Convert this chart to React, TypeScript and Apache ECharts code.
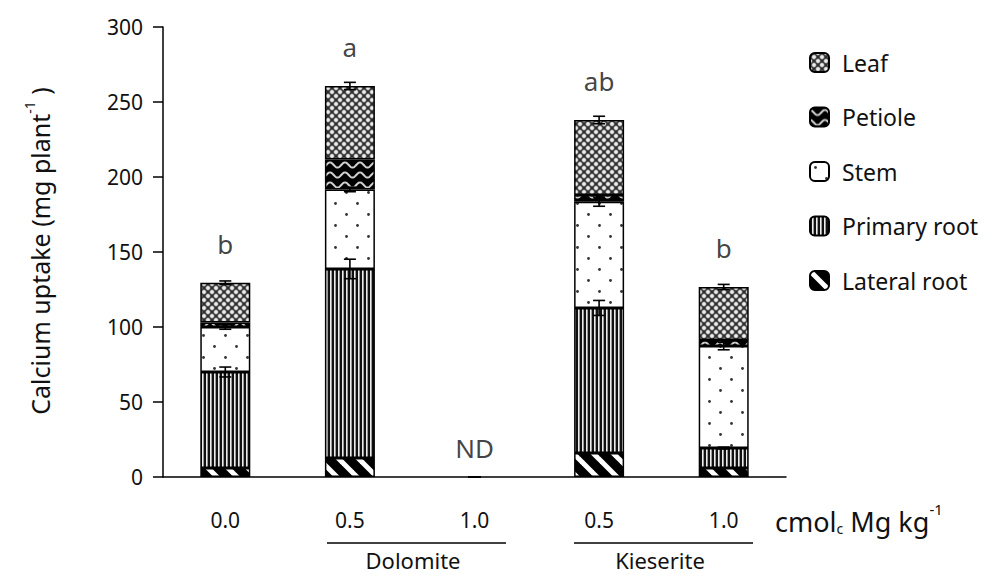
import React, { useEffect, useRef } from "react";
import * as echarts from "echarts";

const categories = ["0.0", "0.5", "1.0", "0.5", "1.0"];
const seriesNames = ["Lateral root", "Primary root", "Stem", "Petiole", "Leaf"];
const lateralRoot = [6, 12.7, 0, 16, 6];
const primaryRoot = [64, 126, 0, 96.7, 13.3];
const stem = [30, 53, 0, 70.8, 68];
const petiole = [3, 20, 0, 4.5, 4];
const leaf = [26.5, 49, 0, 50, 35.4];
const primaryRootErr = [3.3, 6.5, 0, 5, 0.6];
const stemErr = [1.5, 1.5, 0, 3, 2.5];
const leafErr = [1.2, 2.4, 0, 2.5, 1.7];
const letters = ["b", "a", "ND", "ab", "b"];
const groups = ["Dolomite", "Kieserite"];
const yTicks = { min: 0, max: 300, interval: 50 };

const FONT = "'Noto Sans', sans-serif";
const TXT = "#111";

function makePattern(w: number, h: number, draw: (ctx: CanvasRenderingContext2D) => void) {
  const c = document.createElement("canvas");
  c.width = w;
  c.height = h;
  const ctx = c.getContext("2d") as CanvasRenderingContext2D;
  draw(ctx);
  return { image: c.toDataURL(), repeat: "repeat", imageWidth: w, imageHeight: h } as any;
}

function buildPatterns() {
  const leafP = makePattern(8, 8, (ctx) => {
    ctx.fillStyle = "#2e2e2e";
    ctx.fillRect(0, 0, 8, 8);
    const pts = [[4, 4], [0, 0], [8, 0], [0, 8], [8, 8]];
    for (const [x, y] of pts) {
      const g = ctx.createRadialGradient(x, y, 0, x, y, 3.0);
      g.addColorStop(0, "#ffffff");
      g.addColorStop(0.5, "#d8d8d8");
      g.addColorStop(1, "rgba(160,160,160,0)");
      ctx.fillStyle = g;
      ctx.fillRect(x - 4, y - 4, 8, 8);
    }
  });
  const petioleP = makePattern(15, 10, (ctx) => {
    ctx.fillStyle = "#000";
    ctx.fillRect(0, 0, 15, 10);
    ctx.strokeStyle = "#d0d0d0";
    ctx.lineWidth = 2;
    ctx.beginPath();
    for (let x = 0; x <= 15; x += 0.5) {
      const y = 5 - 2.6 * Math.cos((2 * Math.PI * x) / 15);
      if (x === 0) ctx.moveTo(x, y);
      else ctx.lineTo(x, y);
    }
    ctx.stroke();
  });
  const stemP = makePattern(22, 22, (ctx) => {
    ctx.fillStyle = "#fff";
    ctx.fillRect(0, 0, 22, 22);
    ctx.fillStyle = "#333";
    for (const [x, y] of [[5.5, 5.5], [16.5, 16.5]]) {
      ctx.beginPath();
      ctx.arc(x, y, 1.4, 0, Math.PI * 2);
      ctx.fill();
    }
  });
  const primaryP = makePattern(4, 4, (ctx) => {
    ctx.fillStyle = "#eee";
    ctx.fillRect(0, 0, 4, 4);
    ctx.fillStyle = "#111";
    ctx.fillRect(0, 0, 2, 4);
    ctx.fillStyle = "#999";
    ctx.fillRect(3, 0, 1, 4);
  });
  const lateralP = makePattern(20, 20, (ctx) => {
    ctx.fillStyle = "#000";
    ctx.fillRect(0, 0, 20, 20);
    ctx.strokeStyle = "#fff";
    ctx.lineWidth = 5;
    for (const k of [-20, 0, 20]) {
      ctx.beginPath();
      ctx.moveTo(-20 + k, -20);
      ctx.lineTo(40 + k, 40);
      ctx.stroke();
    }
  });
  return [lateralP, primaryP, stemP, petioleP, leafP];
}

export default function App() {
  const ref = useRef<HTMLDivElement>(null);
  useEffect(() => {
    if (!ref.current) return;
    const chart = echarts.init(ref.current, null, { renderer: "svg" });
    const patterns = buildPatterns();
    const values = [lateralRoot, primaryRoot, stem, petiole, leaf];

    const cum: number[][] = [];
    let run = categories.map(() => 0);
    for (const v of values) {
      run = run.map((r, i) => r + v[i]);
      cum.push(run.slice());
    }
    const errData: number[][] = [];
    const errSets: [number, number[]][] = [[1, primaryRootErr], [2, stemErr], [4, leafErr]];
    for (const [si, errs] of errSets) {
      categories.forEach((_, i) => errData.push([i, cum[si][i], errs[i]]));
    }
    const totals = cum[4];

    const barSeries = seriesNames.map((name, si) => ({
      name,
      type: "bar",
      stack: "total",
      barWidth: 50,
      data: values[si].map((v) => (v === 0 ? null : v)),
      itemStyle: { color: patterns[si], borderColor: "#000", borderWidth: 1.5 },
    }));

    const option: any = {
      animation: false,
      backgroundColor: "#fff",
      textStyle: { fontFamily: FONT },
      grid: { left: 163, right: 204, top: 27, bottom: 99 },
      legend: {
        data: ["Leaf", "Petiole", "Stem", "Primary root", "Lateral root"],
        orient: "vertical",
        left: 804,
        top: 46,
        itemWidth: 19,
        itemHeight: 19,
        itemGap: 31.5,
        textStyle: { fontSize: 23, color: TXT, fontFamily: FONT, padding: [0, 0, 0, 8] },
      },
      xAxis: {
        type: "category",
        data: categories,
        axisLine: { lineStyle: { color: "#000", width: 1.5 } },
        axisTick: { length: 10, lineStyle: { color: "#000", width: 1.5 } },
        axisLabel: { fontSize: 21, color: TXT, margin: 32, fontFamily: FONT },
      },
      yAxis: {
        type: "value",
        min: yTicks.min,
        max: yTicks.max,
        interval: yTicks.interval,
        splitLine: { show: false },
        axisLine: { show: true, lineStyle: { color: "#000", width: 1.5 } },
        axisTick: { show: true, length: 10, lineStyle: { color: "#000", width: 1.5 } },
        axisLabel: { fontSize: 21, color: TXT, margin: 20, fontFamily: FONT },
      },
      series: [
        ...barSeries,
        {
          type: "custom",
          name: "err",
          z: 10,
          data: errData,
          encode: { x: 0, y: 1 },
          renderItem: (params: any, api: any) => {
            const x = api.value(0);
            const y = api.value(1);
            const e = api.value(2);
            const top = api.coord([x, y + e]);
            const bot = api.coord([x, y - e]);
            const hw = 6;
            const st = { stroke: "#000", lineWidth: 1.6 };
            return {
              type: "group",
              children: [
                { type: "line", shape: { x1: top[0], y1: top[1], x2: bot[0], y2: bot[1] }, style: st },
                { type: "line", shape: { x1: top[0] - hw, y1: top[1], x2: top[0] + hw, y2: top[1] }, style: st },
                { type: "line", shape: { x1: bot[0] - hw, y1: bot[1], x2: bot[0] + hw, y2: bot[1] }, style: st },
              ],
            };
          },
        },
        {
          type: "scatter",
          name: "letters",
          symbolSize: 0,
          z: 11,
          itemStyle: { color: "#000" },
          data: totals.map((t, i) => ({
            value: [i, t],
            label: {
              show: true,
              formatter: letters[i],
              position: "top",
              distance: t === 0 ? 16 : 26,
              fontSize: 26,
              color: "#111",
              fontFamily: FONT,
            },
          })),
        },
      ],
      graphic: [
        {
          type: "text",
          x: 40,
          y: 251,
          rotation: Math.PI / 2,
          style: {
            text: "{a|Calcium uptake (mg plant}{s|-1}{a| )}",
            textAlign: "center",
            textVerticalAlign: "middle",
            rich: {
              a: { fontSize: 25, fontFamily: FONT, fill: TXT, lineHeight: 36 },
              s: { fontSize: 14, fontFamily: FONT, fill: TXT, verticalAlign: "top" },
            },
          },
        },
        {
          type: "text",
          x: 775,
          y: 521,
          style: {
            text: "{a|cmol}{b|c}{a| Mg kg}{s|-1}",
            textAlign: "left",
            textVerticalAlign: "middle",
            rich: {
              a: { fontSize: 27, fontFamily: FONT, fill: TXT, lineHeight: 40 },
              b: { fontSize: 14, fontFamily: FONT, fill: TXT, verticalAlign: "bottom", padding: [0, 0, 6, 0] },
              s: { fontSize: 15, fontFamily: FONT, fill: TXT, verticalAlign: "top" },
            },
          },
        },
        { type: "line", shape: { x1: 327, y1: 543, x2: 506, y2: 543 }, style: { stroke: "#000", lineWidth: 1.5 } },
        { type: "line", shape: { x1: 574, y1: 543, x2: 753, y2: 543 }, style: { stroke: "#000", lineWidth: 1.5 } },
        {
          type: "text",
          x: 413,
          y: 560,
          style: { text: groups[0], fontSize: 22, fontFamily: FONT, fill: TXT, textAlign: "center", textVerticalAlign: "middle" },
        },
        {
          type: "text",
          x: 660,
          y: 560,
          style: { text: groups[1], fontSize: 22, fontFamily: FONT, fill: TXT, textAlign: "center", textVerticalAlign: "middle" },
        },
      ],
    };
    chart.setOption(option);
    return () => chart.dispose();
  }, []);
  return <div ref={ref} style={{ width: 990, height: 576, position: "absolute", left: 0, top: 0 }} />;
}
